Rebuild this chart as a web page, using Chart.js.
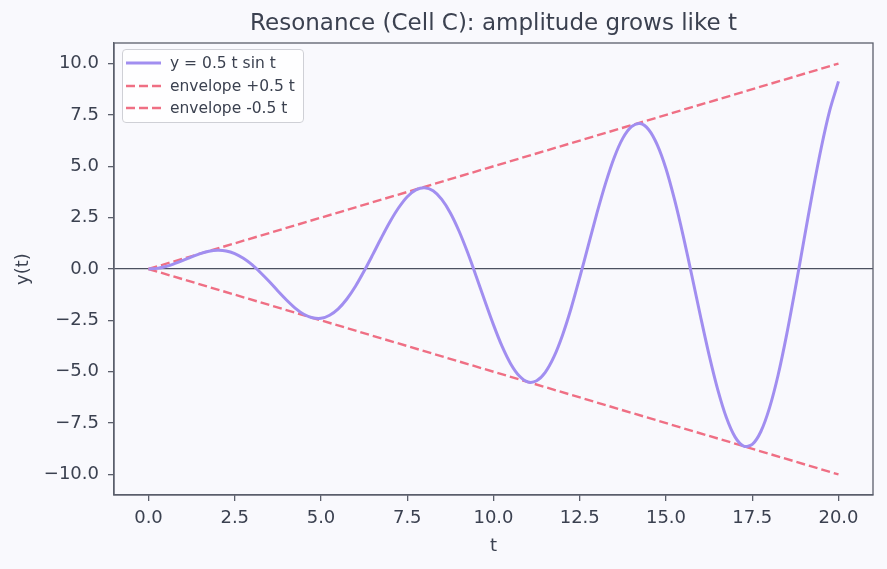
<!DOCTYPE html>
<html>
<head>
<meta charset="utf-8">
<script src="https://cdn.jsdelivr.net/npm/chart.js@4/dist/chart.umd.min.js"></script>
<style>
  html, body { margin: 0; padding: 0; background: #f9f9fd; }
  #wrap { position: relative; width: 887px; height: 569px; }
  #legend {
    position: absolute; box-sizing: border-box;
    background: rgba(255,255,255,0.85); border: 1px solid #cfd0d6; border-radius: 4px;
    padding: 2px 8px 2px 3px; font-family: "DejaVu Sans", sans-serif; font-size: 15.5px; color: #3b4150;
  }
  .item { display: flex; align-items: center; height: 22.5px; }
  .sample { width: 35px; height: 6px; margin-right: 9px; display: block; }
</style>
</head>
<body>
<div id="wrap">
  <canvas id="c" width="887" height="569"></canvas>
  <div id="legend"></div>
</div>
<script>
const titleText = "Resonance (Cell C): amplitude grows like t";
const seriesNames = ["y = 0.5 t sin t", "envelope +0.5 t", "envelope -0.5 t"];
const tValues = [0,0.25,0.5,0.75,1,1.25,1.5,1.75,2,2.25,2.5,2.75,3,3.25,3.5,3.75,4,4.25,4.5,4.75,
  5,5.25,5.5,5.75,6,6.25,6.5,6.75,7,7.25,7.5,7.75,8,8.25,8.5,8.75,9,9.25,9.5,9.75,
  10,10.25,10.5,10.75,11,11.25,11.5,11.75,12,12.25,12.5,12.75,13,13.25,13.5,13.75,14,14.25,14.5,14.75,
  15,15.25,15.5,15.75,16,16.25,16.5,16.75,17,17.25,17.5,17.75,18,18.25,18.5,18.75,19,19.25,19.5,19.75,20];
const yValues = [0,0.03,0.12,0.26,0.42,0.59,0.75,0.86,0.91,0.88,0.75,0.52,0.21,-0.18,-0.61,-1.07,-1.51,-1.90,-2.20,-2.37,
  -2.40,-2.25,-1.94,-1.46,-0.84,-0.10,0.70,1.52,2.30,2.98,3.52,3.85,3.96,3.81,3.39,2.73,1.85,0.80,-0.36,-1.56,
  -2.72,-3.77,-4.62,-5.21,-5.50,-5.44,-5.03,-4.28,-3.22,-1.91,-0.41,1.16,2.73,4.18,5.43,6.37,6.93,7.08,6.78,6.03,
  4.88,3.36,1.60,-0.33,-2.30,-4.19,-5.87,-7.23,-8.17,-8.62,-8.54,-7.91,-6.76,-5.16,-3.17,-0.93,1.42,3.75,5.90,7.74,9.13];
const envT = [0, 20];
const envUpper = [0, 10];
const envLower = [0, -10];
const xTicks = [0, 2.5, 5, 7.5, 10, 12.5, 15, 17.5, 20];
const yTicks = [-10, -7.5, -5, -2.5, 0, 2.5, 5, 7.5, 10];

const TEXT = '#3b4150';
const FRAME = '#5b5f6c';
const PURPLE = '#a18ef0';
const PINK = '#ef6f84';
const FONT = '"DejaVu Sans", sans-serif';

const toPts = (xs, ys) => xs.map((x, i) => ({x: x, y: ys[i]}));
const fmt = v => (v < 0 ? '\u2212' : '') + Math.abs(v).toFixed(1);

const framePlugin = {
  id: 'frame',
  afterDraw(chart) {
    const a = chart.chartArea, ctx = chart.ctx;
    ctx.save();
    ctx.strokeStyle = FRAME; ctx.lineWidth = 1.3;
    ctx.strokeRect(a.left, a.top, a.right - a.left, a.bottom - a.top);
    ctx.restore();
    const lg = document.getElementById('legend');
    lg.style.left = (a.left + 8) + 'px';
    lg.style.top = (a.top + 6) + 'px';
  }
};

const chart = new Chart(document.getElementById('c'), {
  type: 'line',
  data: {
    datasets: [
      { label: seriesNames[0], data: toPts(tValues, yValues), borderColor: PURPLE, borderWidth: 3,
        pointRadius: 0, tension: 0.3, fill: false },
      { label: seriesNames[1], data: toPts(envT, envUpper), borderColor: PINK, borderWidth: 2.4,
        borderDash: [9, 4], pointRadius: 0, fill: false },
      { label: seriesNames[2], data: toPts(envT, envLower), borderColor: PINK, borderWidth: 2.4,
        borderDash: [9, 4], pointRadius: 0, fill: false }
    ]
  },
  options: {
    responsive: false, animation: false,
    layout: { padding: { left: 0, right: 14, top: 0, bottom: 0 } },
    plugins: {
      legend: { display: false },
      tooltip: { enabled: false },
      title: { display: true, fullSize: false, text: titleText, color: TEXT,
        font: { family: FONT, size: 23, weight: 'normal' }, padding: { top: 10, bottom: 5.4 } }
    },
    scales: {
      x: {
        type: 'linear', min: -1, max: 21,
        afterBuildTicks: s => { s.ticks = xTicks.map(v => ({value: v})); },
        afterFit: s => { s.height = 74; },
        grid: { color: 'transparent', tickColor: FRAME, tickLength: 6, lineWidth: 1.3 },
        border: { display: true, color: FRAME, width: 1.3 },
        ticks: { color: TEXT, font: { family: FONT, size: 18 }, padding: 7, maxRotation: 0,
          callback: v => fmt(v) },
        title: { display: true, text: 't', color: TEXT, font: { family: FONT, size: 18 },
          padding: { top: 4, bottom: 12 } }
      },
      y: {
        type: 'linear', min: -11, max: 11,
        afterBuildTicks: s => { s.ticks = yTicks.map(v => ({value: v})); },
        afterFit: s => { s.width = 114; },
        grid: { color: c => (c.tick && c.tick.value === 0 ? '#4c5160' : 'transparent'),
          tickColor: FRAME, tickLength: 6, lineWidth: 1.3 },
        border: { display: true, color: FRAME, width: 1.3 },
        ticks: { color: TEXT, font: { family: FONT, size: 18 }, padding: 9,
          callback: v => fmt(v) },
        title: { display: true, text: 'y(t)', color: TEXT, font: { family: FONT, size: 18 },
          padding: { top: 13, bottom: 4 } }
      }
    }
  },
  plugins: [framePlugin]
});

const lg = document.getElementById('legend');
const SVGNS = 'http://www.w3.org/2000/svg';
chart.data.datasets.forEach(ds => {
  const row = document.createElement('div'); row.className = 'item';
  const svg = document.createElementNS(SVGNS, 'svg');
  svg.setAttribute('class', 'sample'); svg.setAttribute('width', '35'); svg.setAttribute('height', '6');
  const ln = document.createElementNS(SVGNS, 'line');
  ln.setAttribute('x1', '0'); ln.setAttribute('x2', '35'); ln.setAttribute('y1', '3'); ln.setAttribute('y2', '3');
  ln.setAttribute('stroke', ds.borderColor); ln.setAttribute('stroke-width', String(ds.borderWidth));
  if (ds.borderDash) ln.setAttribute('stroke-dasharray', ds.borderDash.join(' '));
  svg.appendChild(ln);
  const t = document.createElement('span'); t.textContent = ds.label;
  row.appendChild(svg); row.appendChild(t); lg.appendChild(row);
});
const a = chart.chartArea;
lg.style.left = (a.left + 8) + 'px';
lg.style.top = (a.top + 6) + 'px';
</script>
</body>
</html>
